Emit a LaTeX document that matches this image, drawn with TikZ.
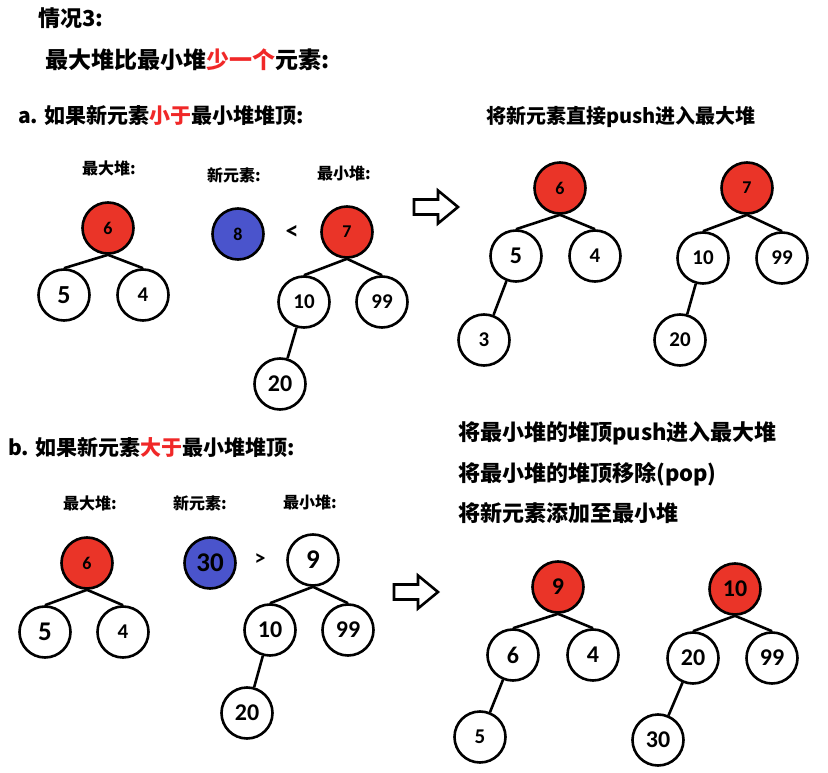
\documentclass[tikz,border=0pt]{standalone}
\usepackage{fontspec}
\setmainfont{Noto Sans CJK SC}
\newfontfamily\numfont{Carlito}
\definecolor{heapred}{RGB}{234,52,40}
\definecolor{newblue}{RGB}{74,84,204}
\definecolor{hotred}{RGB}{240,40,40}

\begin{document}
\begin{tikzpicture}[x=1pt, y=-1pt,
    heap/.style={circle, draw=black, line width=2.6pt, fill=white, minimum size=51pt, inner sep=0pt, font=\numfont\fontsize{24}{24}\selectfont\bfseries},
    small/.style={font=\numfont\fontsize{21}{21}\selectfont\bfseries},
    tiny/.style={font=\numfont\fontsize{18}{18}\selectfont\bfseries},
    top/.style={heap, fill=heapred},
    newel/.style={heap, fill=newblue},
    edge/.style={line width=2.6pt},
    title/.style={anchor=west, inner sep=0pt, font=\fontsize{21}{24}\selectfont\bfseries},
    lbl/.style={inner sep=0pt, font=\fontsize{16}{18}\selectfont\bfseries},
    hollow/.style={draw=black, fill=white, line width=2.6pt, line join=miter}
]
    \useasboundingbox (0,0) rectangle (828,773);

    % headings
    \node[title, font=\fontsize{22}{24}\selectfont\bfseries] (case) at (38,18) {情况3:};
    \node[title, font=\fontsize{23}{24}\selectfont\bfseries] (cond) at (45,60) {最大堆比最小堆\textcolor{hotred}{少一个}元素:};
    \node[title] (parta) at (18,115) {a. 如果新元素\textcolor{hotred}{小于}最小堆堆顶:};
    \node[title, anchor=center, font=\fontsize{20}{24}\selectfont\bfseries] (stepa) at (621,117) {将新元素直接push进入最大堆};
    \node[title] (partb) at (8,447) {b. 如果新元素\textcolor{hotred}{大于}最小堆堆顶:};
    \node[title, font=\fontsize{22}{24}\selectfont\bfseries] (stepb1) at (458,433) {将最小堆的堆顶push进入最大堆};
    \node[title, font=\fontsize{22}{24}\selectfont\bfseries] (stepb2) at (458,474) {将最小堆的堆顶移除(pop)};
    \node[title, font=\fontsize{22}{24}\selectfont\bfseries] (stepb3) at (458,513) {将新元素添加至最小堆};

    % case a, before
    \node[lbl] (amaxlbl) at (109,168) {最大堆:};
    \node[lbl] (anewlbl) at (234,175) {新元素:};
    \node[lbl] (aminlbl) at (344,173) {最小堆:};

    \node[top, tiny] (amax6) at (108,228) {6};
    \node[heap, font=\numfont\fontsize{26}{26}\selectfont\bfseries] (amax5) at (64,295) {5};
    \node[heap, small] (amax4) at (143,295) {4};
    \draw[edge] (amax6.south) -- (amax5.north);
    \draw[edge] (amax6.south) -- (amax4.north);

    \node[newel, tiny] (anew8) at (238,234) {8};
    \node[font=\numfont\fontsize{26}{26}\selectfont\bfseries] (aless) at (292,232) {<};

    \node[top, tiny] (amin7) at (347,232) {7};
    \node[heap, small] (amin10) at (304,302) {10};
    \node[heap, small] (amin99) at (382,302) {99};
    \node[heap] (amin20) at (280,384) {20};
    \draw[edge] (amin7.south) -- (amin10.north);
    \draw[edge] (amin7.south) -- (amin99.north);
    \draw[edge] (amin10) -- (amin20);

    \coordinate (arrowa) at (436,207);
    \draw[hollow] (arrowa) ++(-22,-7.5) -- ++(24,0) -- ++(0,-9) -- ++(20,16.5) -- ++(-20,16.5) -- ++(0,-9) -- ++(-24,0) -- cycle;

    % case a, after
    \node[top, tiny] (rmax6) at (560,188) {6};
    \node[heap] (rmax5) at (516,256) {5};
    \node[heap, small] (rmax4) at (595,256) {4};
    \node[heap, small] (rmax3) at (484,340) {3};
    \draw[edge] (rmax6.south) -- (rmax5.north);
    \draw[edge] (rmax6.south) -- (rmax4.north);
    \draw[edge] (rmax5) -- (rmax3);

    \node[top, tiny] (rmin7) at (747,188) {7};
    \node[heap, small] (rmin10) at (703,258) {10};
    \node[heap, small] (rmin99) at (782,258) {99};
    \node[heap, small] (rmin20) at (680,340) {20};
    \draw[edge] (rmin7.south) -- (rmin10.north);
    \draw[edge] (rmin7.south) -- (rmin99.north);
    \draw[edge] (rmin10) -- (rmin20);

    % case b, before
    \node[lbl] (bmaxlbl) at (90,503) {最大堆:};
    \node[lbl] (bnewlbl) at (200,503) {新元素:};
    \node[lbl] (bminlbl) at (310,502) {最小堆:};

    \node[top, tiny] (bmax6) at (87,563) {6};
    \node[heap, font=\numfont\fontsize{27}{27}\selectfont\bfseries] (bmax5) at (45,632) {5};
    \node[heap, small] (bmax4) at (123,632) {4};
    \draw[edge] (bmax6.south) -- (bmax5.north);
    \draw[edge] (bmax6.south) -- (bmax4.north);

    \node[newel, font=\numfont\fontsize{27}{27}\selectfont\bfseries] (bnew30) at (210,563) {30};
    \node[font=\numfont\fontsize{22}{22}\selectfont\bfseries] (bmore) at (260,560) {>};

    \node[heap, font=\numfont\fontsize{27}{27}\selectfont\bfseries] (bmin9) at (313,560) {9};
    \node[heap] (bmin10) at (270,630) {10};
    \node[heap] (bmin99) at (348,630) {99};
    \node[heap] (bmin20) at (247,713) {20};
    \draw[edge] (bmin9.south) -- (bmin10.north);
    \draw[edge] (bmin9.south) -- (bmin99.north);
    \draw[edge] (bmin10) -- (bmin20);

    \coordinate (arrowb) at (416,592);
    \draw[hollow] (arrowb) ++(-22,-7.5) -- ++(24,0) -- ++(0,-9) -- ++(20,16.5) -- ++(-20,16.5) -- ++(0,-9) -- ++(-24,0) -- cycle;

    % case b, after
    \node[top] (smax9) at (558,587) {9};
    \node[heap] (smax6) at (513,655) {6};
    \node[heap] (smax4) at (593,655) {4};
    \node[heap, small] (smax5) at (480,737) {5};
    \draw[edge] (smax9.south) -- (smax6.north);
    \draw[edge] (smax9.south) -- (smax4.north);
    \draw[edge] (smax6) -- (smax5);

    \node[top] (smin10) at (735,589) {10};
    \node[heap] (smin20) at (693,658) {20};
    \node[heap] (smin99) at (772,658) {99};
    \node[heap] (smin30) at (658,740) {30};
    \draw[edge] (smin10.south) -- (smin20.north);
    \draw[edge] (smin10.south) -- (smin99.north);
    \draw[edge] (smin20) -- (smin30);
\end{tikzpicture}
\end{document}
